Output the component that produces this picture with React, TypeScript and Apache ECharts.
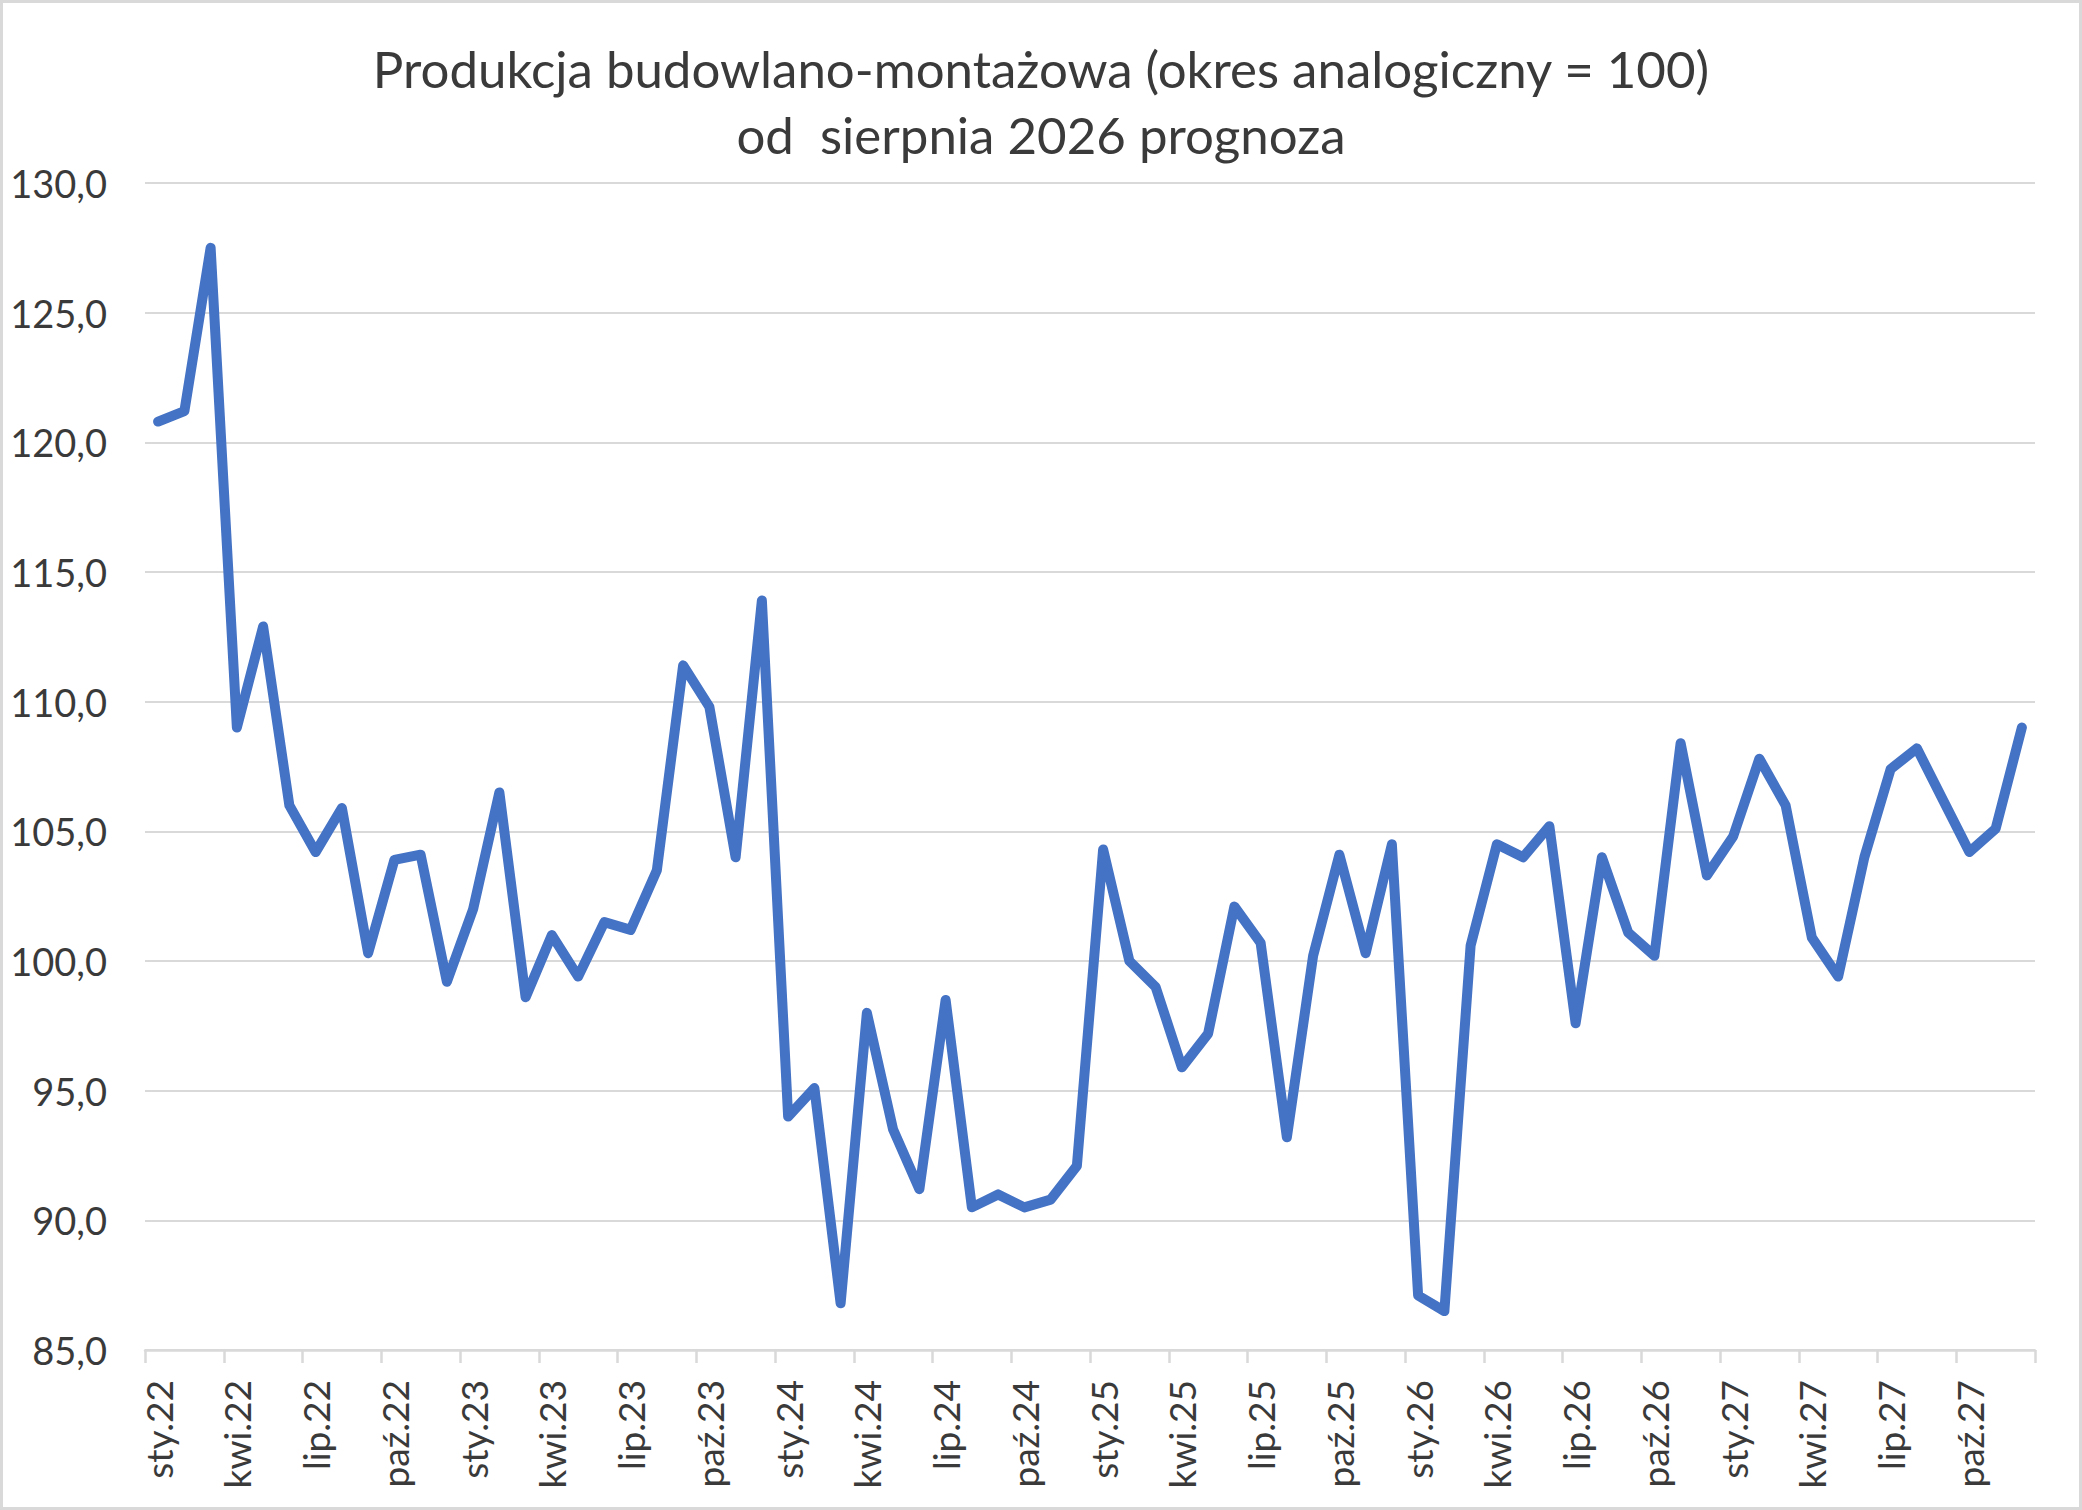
import { useEffect, useRef } from "react";
import * as echarts from "echarts";

const monthNames = ["sty", "lut", "mar", "kwi", "maj", "cze", "lip", "sie", "wrz", "paź", "lis", "gru"];
const years = ["22", "23", "24", "25", "26", "27"];

const categories = years.flatMap((y) => monthNames.map((m) => `${m}.${y}`));

// index (okres analogiczny = 100), sty.22 .. gru.27
const values = [
  120.8, 121.2, 127.5, 109.0, 112.9, 106.0, 104.2, 105.9, 100.3, 103.9, 104.1, 99.2,
  102.0, 106.5, 98.6, 101.0, 99.4, 101.5, 101.2, 103.5, 111.4, 109.8, 104.0, 113.9,
  94.0, 95.1, 86.8, 98.0, 93.5, 91.2, 98.5, 90.5, 91.0, 90.5, 90.8, 92.1,
  104.3, 100.0, 99.0, 95.9, 97.2, 102.1, 100.7, 93.2, 100.2, 104.1, 100.3, 104.5,
  87.1, 86.5, 100.6, 104.5, 104.0, 105.2, 97.6, 104.0, 101.1, 100.2, 108.4, 103.3,
  104.8, 107.8, 106.0, 100.9, 99.4, 104.0, 107.4, 108.2, 106.2, 104.2, 105.1, 109.0,
];

const titleText = "Produkcja budowlano-montażowa (okres analogiczny = 100)\nod  sierpnia 2026 prognoza";

const W = 2082;
const H = 1510;
const FONT = "Lato, 'Open Sans', sans-serif";
const TEXT = "#3a3a3a";
const GRID = "#d9d9d9";

export default function App() {
  const ref = useRef<HTMLDivElement | null>(null);

  useEffect(() => {
    document.body.style.margin = "0";
    const el = ref.current!;
    const chart = echarts.init(el, undefined, { renderer: "svg" });
    chart.setOption({
      animation: false,
      backgroundColor: "#ffffff",
      textStyle: { fontFamily: FONT },
      title: {
        text: titleText,
        left: "center",
        top: 30,
        textStyle: { fontFamily: FONT, fontSize: 51, fontWeight: "normal", color: TEXT, lineHeight: 66 },
      },
      graphic: [
        {
          type: "rect",
          shape: { x: 1.5, y: 1.5, width: W - 3, height: H - 3 },
          style: { fill: "none", stroke: GRID, lineWidth: 3 },
          silent: true,
        },
      ],
      grid: { left: 145, right: 47, top: 183, bottom: 160 },
      xAxis: {
        type: "category",
        data: categories,
        boundaryGap: true,
        axisLine: { lineStyle: { color: GRID, width: 2.5 } },
        axisTick: { show: true, interval: 2, length: 13, lineStyle: { color: GRID, width: 2.5 } },
        axisLabel: { interval: 2, rotate: 90, margin: 30, fontSize: 37, color: TEXT, fontFamily: FONT },
        splitLine: { show: false },
      },
      yAxis: {
        type: "value",
        min: 85,
        max: 130,
        interval: 5,
        axisLine: { show: false },
        axisTick: { show: false },
        axisLabel: {
          margin: 38,
          fontSize: 38,
          color: TEXT,
          fontFamily: FONT,
          formatter: (v: number) => v.toFixed(1).replace(".", ","),
        },
        splitLine: { lineStyle: { color: GRID, width: 2 } },
      },
      series: [
        {
          type: "line",
          data: values,
          showSymbol: false,
          symbol: "none",
          lineStyle: { color: "#4472C4", width: 10, cap: "round", join: "round" },
        },
      ],
    });
    return () => chart.dispose();
  }, []);

  return <div ref={ref} style={{ width: W, height: H }} />;
}
